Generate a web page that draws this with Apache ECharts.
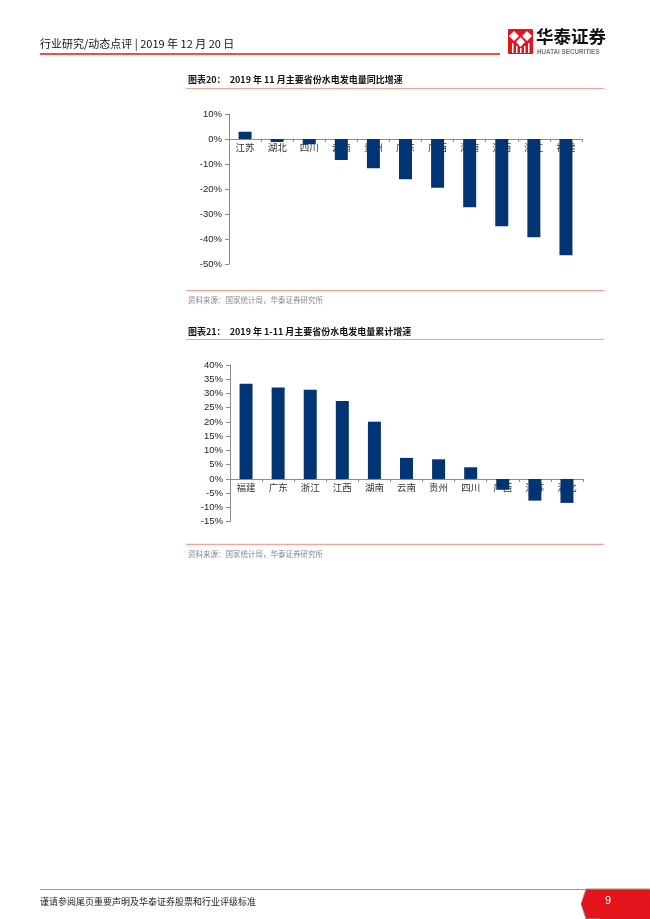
<!DOCTYPE html>
<html>
<head>
<meta charset="utf-8">
<script src="https://cdn.jsdelivr.net/npm/echarts@6/dist/echarts.min.js"></script>
<style>
html,body{margin:0;padding:0;background:#fff;}
#main{width:650px;height:919px;}
</style>
</head>
<body>
<div id="main"></div>
<script>
// ---- Data ----
var cats1 = ['江苏','湖北','四川','云南','贵州','广东','广西','湖南','江西','浙江','福建'];
var vals1 = [2.9, -1.2, -2.1, -8.4, -11.7, -16.1, -19.5, -27.3, -34.9, -39.3, -46.5];
var cats2 = ['福建','广东','浙江','江西','湖南','云南','贵州','四川','广西','江苏','湖北'];
var vals2 = [33.4, 32.1, 31.3, 27.4, 20.1, 7.4, 6.9, 4.1, -3.8, -7.6, -8.4];
var title1 = '图表20：  2019 年 11 月主要省份水电发电量同比增速';
var title2 = '图表21：  2019 年 1-11 月主要省份水电发电量累计增速';
var sourceText = '资料来源：国家统计局，华泰证券研究所';
var headerText = '行业研究/动态点评 | 2019 年 12 月 20 日';
var footerText = '谨请参阅尾页重要声明及华泰证券股票和行业评级标准';
var pageNo = '9';

var BAR = '#023473';
var PINK = '#f4a39c';
var cjk = '"Noto Sans CJK SC", sans-serif';
var lat = '"Liberation Sans", Arial, sans-serif';

var g1 = { left: 229, top: 114, width: 353, height: 150 };
var g2 = { left: 230, top: 365, width: 353, height: 156.7 };

function xAx(gi, cats, grid, min, max) {
  // place the category axis at the zero line of the value axis
  var zeroFromBottom = grid.height * (0 - min) / (max - min);
  return {
    type: 'category', gridIndex: gi, data: cats, position: 'bottom',
    offset: -zeroFromBottom,
    axisLine: { onZero: false, lineStyle: { color: '#8c8c8c', width: 1 } },
    axisTick: { show: true, length: 3, lineStyle: { color: '#8c8c8c' } },
    axisLabel: { fontFamily: cjk, fontSize: 9.5, color: '#333', margin: 4 }
  };
}
function yAx(gi, min, max, interval) {
  return {
    type: 'value', gridIndex: gi, min: min, max: max, interval: interval,
    splitLine: { show: false },
    axisLine: { show: true, lineStyle: { color: '#8c8c8c', width: 1 } },
    axisTick: { show: true, length: 4, lineStyle: { color: '#8c8c8c' } },
    axisLabel: { fontFamily: lat, fontSize: 9.5, color: '#222', margin: 7, formatter: '{value}%' }
  };
}

var chart = echarts.init(document.getElementById('main'));
chart.setOption({
  backgroundColor: '#fff',
  animation: false,
  grid: [g1, g2],
  xAxis: [xAx(0, cats1, g1, -50, 10), xAx(1, cats2, g2, -15, 40)],
  yAxis: [yAx(0, -50, 10, 10), yAx(1, -15, 40, 5)],
  series: [
    { type: 'bar', xAxisIndex: 0, yAxisIndex: 0, data: vals1, barWidth: 13, itemStyle: { color: BAR } },
    { type: 'bar', xAxisIndex: 1, yAxisIndex: 1, data: vals2, barWidth: 13, itemStyle: { color: BAR } }
  ],
  graphic: [
    // header
    { type: 'text', left: 40, top: 38, style: { text: headerText, font: '11px ' + cjk, fill: '#111' } },
    { type: 'line', shape: { x1: 40, y1: 54, x2: 500, y2: 54 }, style: { stroke: '#e3141c', lineWidth: 1.5 } },
    // logo
    { type: 'rect', shape: { x: 508, y: 29, width: 25, height: 25, r: 1 }, style: { fill: '#e3141c' } },
    { type: 'polygon', shape: { points: [[514,31],[519,36],[514,41],[509,36]] }, style: { fill: '#fff' } },
    { type: 'polygon', shape: { points: [[527,31],[532,36],[527,41],[522,36]] }, style: { fill: '#fff' } },
    { type: 'polygon', shape: { points: [[520.5,37],[525,42],[520.5,47],[516,42]] }, style: { fill: '#fff' } },
    { type: 'rect', shape: { x: 512, y: 43, width: 1.5, height: 10 }, style: { fill: '#fff' } },
    { type: 'rect', shape: { x: 516, y: 46, width: 1.5, height: 7 }, style: { fill: '#fff' } },
    { type: 'rect', shape: { x: 520, y: 48, width: 1.5, height: 5 }, style: { fill: '#fff' } },
    { type: 'rect', shape: { x: 524, y: 46, width: 1.5, height: 7 }, style: { fill: '#fff' } },
    { type: 'rect', shape: { x: 528, y: 43, width: 1.5, height: 10 }, style: { fill: '#fff' } },
    { type: 'text', left: 536, top: 28, style: { text: '华泰证券', font: 'bold 17.5px ' + cjk, fill: '#111' } },
    { type: 'text', left: 537, top: 49, style: { text: 'HUATAI SECURITIES', font: 'bold 6.3px ' + lat, fill: '#777' } },
    // chart 1 title and lines
    { type: 'text', left: 188, top: 75, style: { text: title1, font: 'bold 9px ' + cjk, fill: '#111' } },
    { type: 'line', shape: { x1: 186, y1: 88.5, x2: 604, y2: 88.5 }, style: { stroke: PINK, lineWidth: 1.2 } },
    { type: 'line', shape: { x1: 186, y1: 290.7, x2: 604, y2: 290.7 }, style: { stroke: PINK, lineWidth: 1.2 } },
    { type: 'text', left: 188, top: 296, style: { text: sourceText, font: '7.5px ' + cjk, fill: '#8a8a8a' } },
    // chart 2 title and lines
    { type: 'text', left: 188, top: 327, style: { text: title2, font: 'bold 9px ' + cjk, fill: '#111' } },
    { type: 'line', shape: { x1: 186, y1: 339.5, x2: 604, y2: 339.5 }, style: { stroke: PINK, lineWidth: 1.2 } },
    { type: 'line', shape: { x1: 186, y1: 544.3, x2: 604, y2: 544.3 }, style: { stroke: PINK, lineWidth: 1.2 } },
    { type: 'text', left: 188, top: 550, style: { text: sourceText, font: '7.5px ' + cjk, fill: '#8a8a8a' } },
    // footer
    { type: 'line', shape: { x1: 40, y1: 889.5, x2: 586, y2: 889.5 }, style: { stroke: '#9a9a9a', lineWidth: 1.2 } },
    { type: 'polygon', shape: { points: [[586,889],[650,889],[650,919],[586,919],[581,904]] }, style: { fill: '#e3141c', stroke: '#999', lineWidth: 1 } },
    { type: 'rect', shape: { x: 600, y: 890, width: 50, height: 29 }, style: { fill: '#e3141c' } },
    { type: 'text', left: 605, top: 895, style: { text: pageNo, font: '11px ' + lat, fill: '#fff' } },
    { type: 'text', left: 40, top: 897, style: { text: footerText, font: '9px ' + cjk, fill: '#222' } }
  ]
});
</script>
</body>
</html>
